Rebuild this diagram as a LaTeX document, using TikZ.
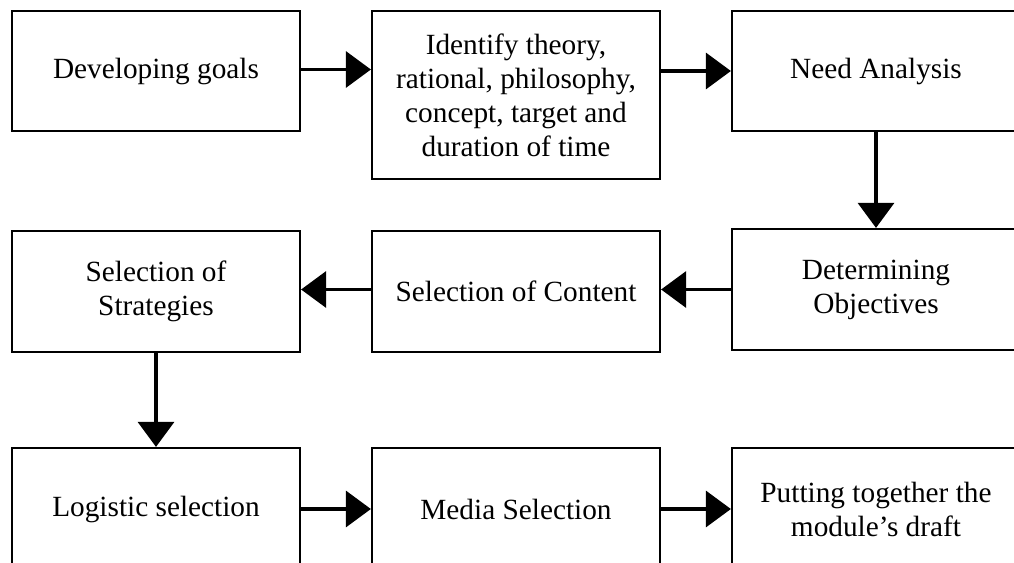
\documentclass[tikz,border=0pt]{standalone}
\usepackage{fontspec}
\setmainfont{Liberation Serif}
\usetikzlibrary{arrows.meta}
\tikzset{
  box/.style={draw=black, line width=2.2pt, minimum width=288pt, inner sep=0pt, align=center,
    font=\fontsize{29.3}{34}\selectfont},
  flow/.style={line width=3.2pt, -{Triangle[length=25pt,width=36pt]}}
}
\begin{document}
\begin{tikzpicture}[x=1pt,y=1pt]
\useasboundingbox (0,0) rectangle (1014,-562);
\fill[white] (0,0) rectangle (1014,-562);
\clip (0,0) rectangle (1014,-562);
\node[box, minimum height=120pt] (b1) at (156,-71) {Developing goals};
\node[box, minimum height=168pt] (b2) at (516,-95) {Identify theory,\\rational, philosophy,\\concept, target and\\duration of time};
\node[box, minimum height=120pt] (b3) at (876,-71) {Need Analysis};
\node[box, minimum height=121pt] (b4) at (156,-291.5) {Selection of\\Strategies};
\node[box, minimum height=121pt] (b5) at (516,-291.5) {Selection of Content};
\node[box, minimum height=121pt] (b6) at (876,-289.5) {Determining\\Objectives};
\node[box, minimum height=122pt] (b7) at (156,-509) {Logistic selection};
\node[box, minimum height=122pt] (b8) at (516,-509) {Media Selection};
\node[box, minimum height=122pt] (b9) at (876,-509) {Putting together the\\module’s draft};
\draw[flow] ([yshift=1.5pt]b1.east) -- ([yshift=1.5pt]b1.east -| b2.west);
\draw[flow] (b3.west -| b2.east) -- (b3.west);
\draw[flow] (b3.south) -- (b6.north);
\draw[flow] (b6.west) -- (b6.west -| b5.east);
\draw[flow] (b6.west -| b5.west) -- (b6.west -| b4.east);
\draw[flow] (b4.south) -- (b7.north);
\draw[flow] (b7.east) -- (b8.west);
\draw[flow] (b8.east) -- (b9.west);
\end{tikzpicture}
\end{document}
